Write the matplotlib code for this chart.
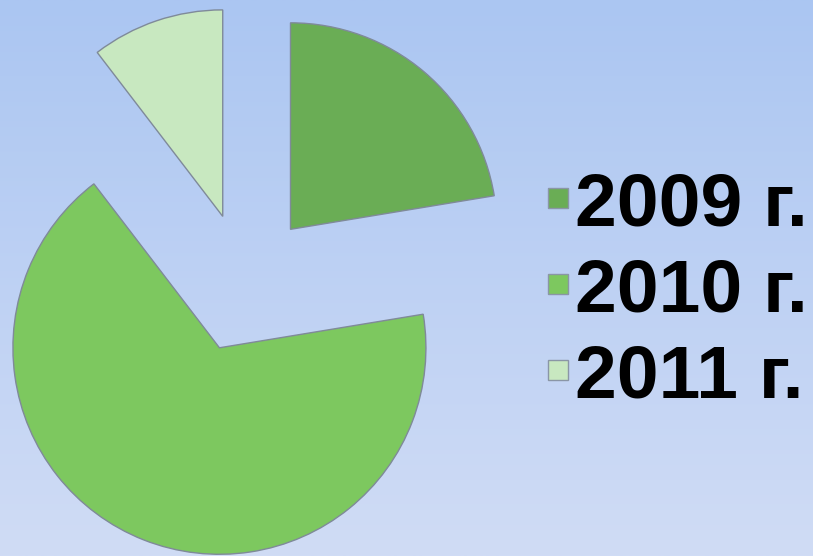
import numpy as np
import matplotlib
matplotlib.use("Agg")
import matplotlib.pyplot as plt
from matplotlib.colors import LinearSegmentedColormap

# Share of each year
labels = ["2009 г.", "2010 г.", "2011 г."]
values = [22.4, 67.2, 10.4]
colors = ["#6aad55", "#7dc85f", "#c8e8c0"]

W, H, DPI = 813, 556, 100
fig = plt.figure(figsize=(W / DPI, H / DPI), dpi=DPI)

# Vertical blue gradient backdrop
bg = fig.add_axes([0, 0, 1, 1], zorder=0)
grad = np.linspace(0, 1, 256).reshape(-1, 1)
cmap = LinearSegmentedColormap.from_list("bg", ["#abc6f2", "#d0dcf5"])
bg.imshow(grad, aspect="auto", cmap=cmap, extent=[0, 1, 0, 1], origin="upper")
bg.set_axis_off()

ax = fig.add_axes([0, 0, 1, 1], zorder=1)
ax.patch.set_alpha(0)
scale = 206.5  # pixels per unit radius
cx, cy = 245.2, 556 - 282.7

wedges, _ = ax.pie(
    values,
    colors=colors,
    startangle=90,
    counterclock=False,
    radius=1.0,
    explode=[0.339] * 3,
    wedgeprops=dict(edgecolor="#7f8a99", linewidth=1.0),
    frame=True,
)
ax.set_xlim(-cx / scale, (W - cx) / scale)
ax.set_ylim(-cy / scale, (H - cy) / scale)
ax.set_aspect("auto")
ax.set_axis_off()

fs = 54
leg = fig.legend(
    wedges,
    labels,
    loc="center left",
    bbox_to_anchor=(548 / W, 1 - 292 / H),
    frameon=False,
    prop=dict(family="Liberation Sans", weight="bold", size=fs),
    handlelength=0.267,
    handleheight=0.034,
    handletextpad=0.09,
    labelspacing=0.223,
    borderpad=0,
    borderaxespad=0,
)
for h in leg.legend_handles:
    h.set_edgecolor("#8a96a6")
    h.set_linewidth(1.0)

fig.savefig("out.png", dpi=DPI)
